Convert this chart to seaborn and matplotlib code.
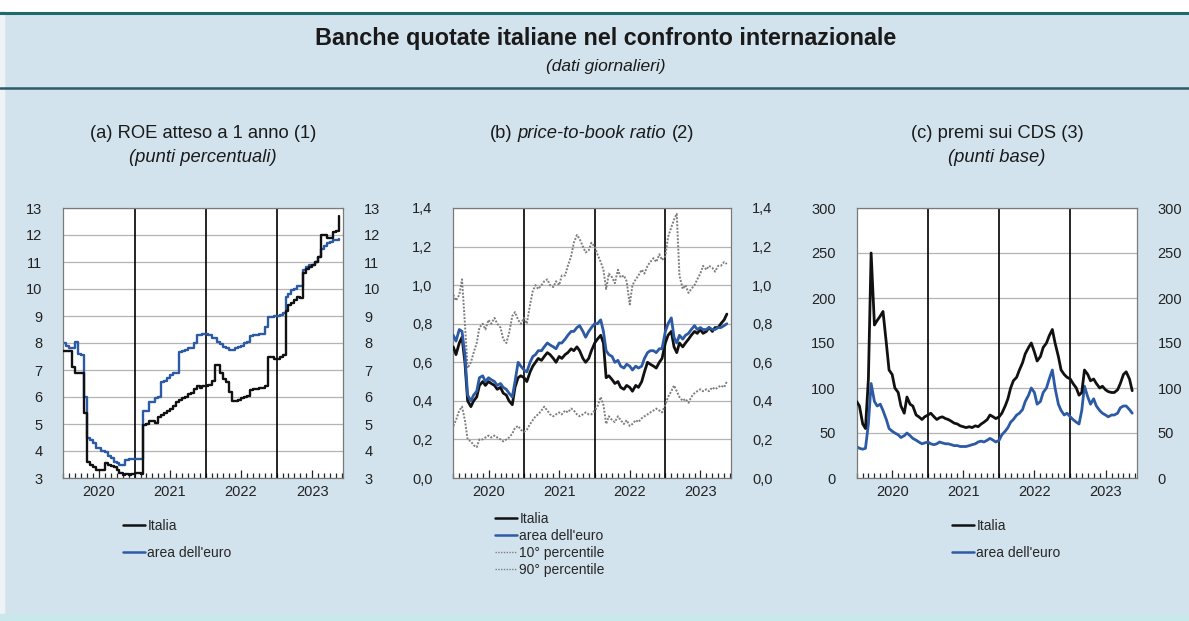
import matplotlib
matplotlib.use("Agg")
import matplotlib.pyplot as plt
import matplotlib.dates as mdates
import matplotlib.ticker as mticker
from matplotlib.patches import Rectangle
from matplotlib.lines import Line2D
import seaborn as sns
import pandas as pd

# ---------------- data (semi-monthly readings, Jan 2020 - Nov 2023) ----------------
dates = pd.date_range("2020-01-01", periods=94, freq="SMS")
years = [2020, 2021, 2022, 2023]

roe_italia = [7.7, 7.7, 7.7, 7.1, 6.9, 6.9, 6.9, 5.4, 3.6, 3.5, 3.4, 3.3, 3.3, 3.3, 3.55, 3.5, 3.45, 3.4, 3.3, 3.2, 3.1, 3.15, 3.1, 3.15,
              3.2, 3.2, 3.15, 4.95, 5.0, 5.1, 5.1, 5.05, 5.25, 5.35, 5.4, 5.5, 5.55, 5.65, 5.8, 5.9, 5.95, 6.0, 6.1, 6.15, 6.3, 6.4, 6.35, 6.4,
              6.4, 6.45, 6.6, 7.2, 7.2, 6.9, 6.65, 6.55, 6.2, 5.85, 5.85, 5.9, 5.95, 6.0, 6.05, 6.25, 6.3, 6.3, 6.35, 6.35, 6.4, 7.5, 7.5, 7.4,
              7.4, 7.5, 7.55, 9.2, 9.4, 9.5, 9.6, 9.7, 9.65, 10.6, 10.75, 10.8, 10.9, 11.0, 11.2, 12.0, 12.0, 11.9, 11.9, 12.1, 12.15, 12.7]
roe_euro = [8.0, 7.9, 7.8, 7.8, 8.05, 7.6, 7.55, 6.0, 4.5, 4.4, 4.3, 4.1, 4.1, 4.0, 3.95, 3.8, 3.75, 3.6, 3.55, 3.5, 3.5, 3.65, 3.7, 3.7,
            3.7, 3.7, 3.7, 5.5, 5.5, 5.8, 5.8, 5.95, 6.0, 6.55, 6.6, 6.7, 6.8, 6.9, 6.9, 7.65, 7.7, 7.75, 7.8, 7.8, 8.0, 8.3, 8.3, 8.35,
            8.35, 8.3, 8.2, 8.2, 8.05, 7.95, 7.85, 7.8, 7.75, 7.75, 7.8, 7.85, 7.9, 8.0, 8.05, 8.25, 8.3, 8.3, 8.35, 8.35, 8.6, 8.95, 8.95, 9.0,
            9.0, 9.05, 9.1, 9.7, 9.8, 9.95, 10.0, 10.1, 10.1, 10.7, 10.8, 10.9, 10.9, 11.0, 11.2, 11.5, 11.6, 11.7, 11.75, 11.8, 11.8, 11.85]

pb_italia = [0.68, 0.64, 0.70, 0.73, 0.60, 0.40, 0.37, 0.40, 0.42, 0.48, 0.50, 0.48, 0.50, 0.49, 0.48, 0.46, 0.47, 0.44, 0.43, 0.40, 0.38, 0.47, 0.52, 0.53,
             0.52, 0.50, 0.55, 0.58, 0.60, 0.62, 0.61, 0.63, 0.65, 0.64, 0.62, 0.60, 0.63, 0.62, 0.64, 0.65, 0.67, 0.66, 0.68, 0.66, 0.62, 0.60, 0.62, 0.66,
             0.70, 0.72, 0.74, 0.70, 0.52, 0.53, 0.51, 0.49, 0.50, 0.47, 0.46, 0.48, 0.47, 0.45, 0.48, 0.47, 0.50, 0.55, 0.60, 0.59, 0.58, 0.57, 0.60, 0.62,
             0.70, 0.74, 0.76, 0.68, 0.65, 0.70, 0.68, 0.70, 0.72, 0.74, 0.76, 0.75, 0.77, 0.75, 0.76, 0.78, 0.76, 0.78, 0.78, 0.80, 0.82, 0.85]
pb_euro = [0.74, 0.71, 0.77, 0.76, 0.64, 0.43, 0.40, 0.43, 0.45, 0.52, 0.53, 0.50, 0.52, 0.51, 0.50, 0.48, 0.49, 0.47, 0.46, 0.44, 0.42, 0.50, 0.60, 0.58,
           0.56, 0.55, 0.60, 0.63, 0.64, 0.66, 0.66, 0.68, 0.70, 0.69, 0.68, 0.67, 0.70, 0.70, 0.72, 0.74, 0.76, 0.76, 0.78, 0.79, 0.76, 0.73, 0.76, 0.78,
           0.80, 0.80, 0.82, 0.76, 0.66, 0.64, 0.63, 0.60, 0.61, 0.58, 0.57, 0.59, 0.58, 0.56, 0.58, 0.57, 0.58, 0.62, 0.65, 0.66, 0.66, 0.65, 0.67, 0.67,
           0.76, 0.80, 0.83, 0.73, 0.70, 0.74, 0.72, 0.74, 0.75, 0.77, 0.79, 0.77, 0.78, 0.77, 0.77, 0.78, 0.77, 0.77, 0.78, 0.78, 0.79, 0.80]
pb_p10 = [0.27, 0.30, 0.35, 0.37, 0.30, 0.20, 0.19, 0.17, 0.16, 0.20, 0.20, 0.21, 0.22, 0.21, 0.22, 0.21, 0.20, 0.19, 0.20, 0.21, 0.23, 0.26, 0.27, 0.25,
          0.24, 0.25, 0.28, 0.30, 0.32, 0.33, 0.35, 0.37, 0.35, 0.33, 0.32, 0.33, 0.34, 0.33, 0.35, 0.34, 0.36, 0.35, 0.33, 0.32, 0.33, 0.34, 0.33, 0.33,
          0.35, 0.37, 0.42, 0.38, 0.28, 0.32, 0.30, 0.29, 0.32, 0.30, 0.28, 0.30, 0.27, 0.28, 0.30, 0.29, 0.31, 0.32, 0.33, 0.34, 0.35, 0.36, 0.35, 0.34,
          0.38, 0.42, 0.45, 0.48, 0.45, 0.42, 0.40, 0.41, 0.39, 0.42, 0.44, 0.45, 0.46, 0.45, 0.46, 0.45, 0.47, 0.46, 0.47, 0.48, 0.47, 0.50]
pb_p90 = [0.95, 0.92, 0.95, 1.03, 0.80, 0.57, 0.60, 0.65, 0.70, 0.78, 0.80, 0.77, 0.82, 0.80, 0.83, 0.80, 0.78, 0.72, 0.70, 0.75, 0.84, 0.86, 0.82, 0.80,
          0.83, 0.80, 0.90, 0.97, 1.00, 0.98, 1.00, 1.02, 1.03, 1.00, 0.99, 1.02, 1.00, 1.05, 1.05, 1.10, 1.15, 1.22, 1.26, 1.24, 1.20, 1.17, 1.18, 1.22,
          1.20, 1.16, 1.12, 1.08, 0.98, 1.06, 1.04, 1.01, 1.08, 1.04, 1.05, 1.02, 0.90, 1.00, 1.03, 1.05, 1.08, 1.06, 1.10, 1.12, 1.14, 1.12, 1.16, 1.13,
          1.15, 1.25, 1.30, 1.34, 1.37, 1.05, 0.98, 1.00, 0.96, 0.98, 1.00, 1.03, 1.06, 1.10, 1.08, 1.10, 1.09, 1.07, 1.10, 1.10, 1.12, 1.11]

cds_italia = [85, 80, 60, 55, 110, 250, 170, 175, 180, 185, 150, 120, 115, 100, 95, 80, 72, 90, 82, 80, 70, 68, 65, 68,
              70, 72, 68, 65, 67, 68, 66, 65, 63, 61, 60, 58, 57, 56, 57, 56, 58, 57, 60, 62, 65, 70, 68, 66,
              68, 72, 80, 88, 100, 108, 112, 120, 128, 138, 145, 150, 140, 130, 135, 145, 150, 158, 165, 150, 135, 120, 115, 112,
              110, 105, 100, 92, 95, 120, 115, 108, 110, 105, 100, 102, 98, 96, 95, 95, 98, 105, 115, 118, 110, 97]
cds_euro = [35, 33, 32, 33, 60, 105, 85, 80, 82, 75, 65, 55, 52, 50, 48, 45, 47, 50, 47, 44, 42, 40, 38, 39,
            40, 38, 37, 38, 40, 39, 38, 38, 37, 36, 36, 35, 35, 35, 36, 37, 38, 40, 41, 40, 42, 44, 42, 40,
            42, 48, 52, 56, 62, 65, 70, 72, 76, 85, 92, 100, 95, 82, 85, 95, 100, 110, 120, 100, 82, 75, 70, 72,
            68, 65, 62, 60, 75, 102, 90, 82, 88, 80, 75, 72, 70, 68, 70, 70, 72, 78, 80, 80, 76, 72]

labels_main = ["Italia", "area dell'euro"]
labels_pct = ["10° percentile", "90° percentile"]

# ---------------- style ----------------
BG = "#d3e3ed"
BLACK = "#111111"
BLUE = "#2c5aa5"
GREY = "#7e7e7e"
W, H = 1189, 621

sns.set_theme(style="white")
plt.rcParams["font.family"] = ["Liberation Sans", "DejaVu Sans"]
plt.rcParams["axes.unicode_minus"] = False

fig = plt.figure(figsize=(W / 100, H / 100), dpi=100, facecolor=BG)

# decorative bands
fig.add_artist(Rectangle((0, 1 - 11 / H), 1, 11 / H, transform=fig.transFigure, color="white", zorder=0))
fig.add_artist(Line2D([0, 1], [1 - 12.5 / H] * 2, transform=fig.transFigure, color="#1f6a6a", lw=2.2))
fig.add_artist(Line2D([0, 1], [1 - 87.5 / H] * 2, transform=fig.transFigure, color="#2c5a68", lw=1.8))
fig.add_artist(Rectangle((0, 0), 4 / W, 1 - 11 / H, transform=fig.transFigure, color="#eef3f6", zorder=0))
fig.add_artist(Rectangle((0, 0), 1, 7 / H, transform=fig.transFigure, color="#c9e8ec", zorder=0))

fig.text(606 / W, 1 - 38 / H, "Banche quotate italiane nel confronto internazionale",
         ha="center", va="center", fontsize=16.8, fontweight="bold", color="#1a1a1a")
fig.text(606 / W, 1 - 66 / H, "(dati giornalieri)", ha="center", va="center",
         fontsize=12.5, style="italic", color="#1a1a1a")

ax_bottom = 1 - 478 / H
ax_h = 270 / H
positions = [(63.3, 280), (453.3, 278), (856.7, 280)]
axes = [fig.add_axes([l / W, ax_bottom, w / W, ax_h]) for l, w in positions]

year_starts = pd.to_datetime([f"{y}-01-01" for y in years])
xmin = year_starts[0]
xmax = pd.Timestamp("2023-12-08")


def style_axis(ax, ylim, step, fmt):
    ax.set_facecolor("white")
    ax.set_xlim(xmin, xmax)
    ax.set_ylim(*ylim)
    ax.yaxis.set_major_locator(mticker.MultipleLocator(step))
    ax.yaxis.set_major_formatter(mticker.FuncFormatter(fmt))
    ax.yaxis.grid(True, color="#b4b4b4", lw=0.9)
    ax.xaxis.grid(False)
    ax.set_axisbelow(True)
    for sp in ax.spines.values():
        sp.set_color("#7a7a7a")
        sp.set_linewidth(0.9)
    ax.tick_params(axis="y", which="both", left=False, right=False, labelleft=True,
                   labelright=True, labelsize=10.5, pad=9, colors="#222222")
    ax.xaxis.set_major_locator(mdates.MonthLocator(bymonth=7))
    ax.xaxis.set_major_formatter(mdates.DateFormatter("%Y"))
    ax.xaxis.set_minor_locator(mdates.MonthLocator())
    ax.tick_params(axis="x", which="major", direction="in", length=6, width=0.9,
                   bottom=True, labelsize=10.5, pad=5, colors="#222222")
    ax.tick_params(axis="x", which="minor", direction="in", length=3.5, width=0.9, bottom=True,
                   color="#222222")
    for ys in year_starts[1:]:
        ax.axvline(ys, color="black", lw=1.2, zorder=1)
    ax.set_xlabel("")
    ax.set_ylabel("")


int_fmt = lambda v, p: f"{v:.0f}"
dec_fmt = lambda v, p: f"{v:.1f}".replace(".", ",")

# (a) ROE
ax = axes[0]
df_a = pd.DataFrame({"date": dates, "Italia": roe_italia, "euro": roe_euro})
sns.lineplot(data=df_a, x="date", y="Italia", ax=ax, color=BLACK, lw=1.7, drawstyle="steps-post", zorder=3)
sns.lineplot(data=df_a, x="date", y="euro", ax=ax, color=BLUE, lw=1.7, drawstyle="steps-post", zorder=2)
style_axis(ax, (3, 13), 1, int_fmt)

# (b) price-to-book
ax = axes[1]
df_b = pd.DataFrame({"date": dates, "Italia": pb_italia, "euro": pb_euro, "p10": pb_p10, "p90": pb_p90})
sns.lineplot(data=df_b, x="date", y="p10", ax=ax, color=GREY, lw=1.4, linestyle=(0, (1, 0.8)), zorder=2)
sns.lineplot(data=df_b, x="date", y="p90", ax=ax, color=GREY, lw=1.4, linestyle=(0, (1, 0.8)), zorder=2)
sns.lineplot(data=df_b, x="date", y="Italia", ax=ax, color=BLACK, lw=2.0, zorder=3)
sns.lineplot(data=df_b, x="date", y="euro", ax=ax, color=BLUE, lw=2.0, zorder=4)
style_axis(ax, (0, 1.4), 0.2, dec_fmt)

# (c) CDS
ax = axes[2]
df_c = pd.DataFrame({"date": dates, "Italia": cds_italia, "euro": cds_euro})
sns.lineplot(data=df_c, x="date", y="Italia", ax=ax, color=BLACK, lw=2.0, zorder=3)
sns.lineplot(data=df_c, x="date", y="euro", ax=ax, color=BLUE, lw=2.0, zorder=2)
style_axis(ax, (0, 300), 50, int_fmt)

# panel titles
tsize = 13.2
fig.text(203 / W, 1 - 133 / H, "(a) ROE atteso a 1 anno (1)", ha="center", va="center", fontsize=tsize, color="#1a1a1a")
fig.text(203 / W, 1 - 158 / H, "(punti percentuali)", ha="center", va="center", fontsize=tsize, style="italic", color="#1a1a1a")
fig.text(997 / W, 1 - 133 / H, "(c) premi sui CDS (3)", ha="center", va="center", fontsize=tsize, color="#1a1a1a")
fig.text(997 / W, 1 - 158 / H, "(punti base)", ha="center", va="center", fontsize=tsize, style="italic", color="#1a1a1a")

renderer = fig.canvas.get_renderer()
parts = [("(b)", "normal"), ("price-to-book ratio", "italic"), ("(2)", "normal")]
texts = [fig.text(0, 1 - 133 / H, s, style=st, fontsize=tsize, ha="left", va="center", color="#1a1a1a")
         for s, st in parts]
space = 0.278 * tsize * 100 / 72
widths = [t.get_window_extent(renderer).width for t in texts]
total = sum(widths) + space * (len(texts) - 1)
x0 = 592 - total / 2
for t, w in zip(texts, widths):
    t.set_x(x0 / W)
    x0 += w + space

# legends
def line_handle(color, lw, ls="-"):
    return Line2D([], [], color=color, lw=lw, linestyle=ls)

leg_kw = dict(frameon=False, fontsize=10, handlelength=1.6, handletextpad=0.15,
              borderpad=0, borderaxespad=0, loc="upper left", bbox_transform=fig.transFigure)
axes[0].legend([line_handle(BLACK, 1.8), line_handle(BLUE, 1.8)], labels_main,
               bbox_to_anchor=(123 / W, 1 - 519 / H), labelspacing=0.95, **leg_kw)
axes[1].legend([line_handle(BLACK, 1.8), line_handle(BLUE, 1.8),
                line_handle(GREY, 1.0, (0, (1, 1))), line_handle(GREY, 1.0, (0, (1, 1)))],
               labels_main + labels_pct,
               bbox_to_anchor=(495 / W, 1 - 512 / H), labelspacing=0.22, **leg_kw)
axes[2].legend([line_handle(BLACK, 1.8), line_handle(BLUE, 1.8)], labels_main,
               bbox_to_anchor=(952 / W, 1 - 519 / H), labelspacing=0.95, **leg_kw)

fig.savefig("out.png", dpi=100, facecolor=BG)
